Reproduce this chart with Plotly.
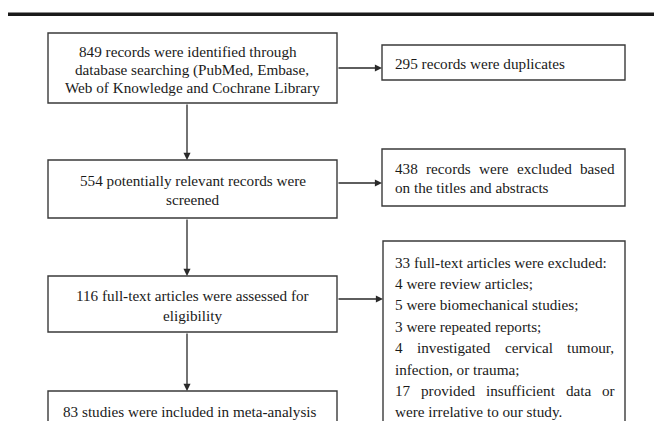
import plotly.graph_objects as go

# ---- content ----
box_texts = {
    "identified": ["849 records were identified through",
                   "database searching (PubMed, Embase,",
                   "Web of Knowledge and Cochrane Library"],
    "duplicates": ["295 records were duplicates"],
    "screened": ["554 potentially relevant records were", "screened"],
    "excluded1": ["438 records were excluded based", "on the titles and abstracts"],
    "eligibility": ["116 full-text articles were assessed for", "eligibility"],
    "included": ["83 studies were included in meta-analysis"],
    "excluded2": ["33 full-text articles were excluded:",
                  "4 were review articles;",
                  "5 were biomechanical studies;",
                  "3 were repeated reports;",
                  "4 investigated cervical tumour,",
                  "infection, or trauma;",
                  "17 provided insufficient data or",
                  "were irrelative to our study."],
}
# lines set justified across the box's text width
justified_lines = [("excluded1", 0), ("excluded2", 4), ("excluded2", 6)]

# ---- layout (pixel coordinates) ----
W, H = 654, 421
boxes = {  # x0, x1, y0, y1
    "identified": (48, 337, 33, 103),
    "duplicates": (382, 625, 45, 80),
    "screened": (48, 337, 160, 218),
    "excluded1": (382, 625, 149, 206),
    "eligibility": (48, 337, 276, 332),
    "included": (48, 337, 391, 450),
    "excluded2": (383, 625, 241, 460),
}
# text placement: (align, x, first line y, line spacing, right edge for justification)
text_pos = {
    "identified": ("center", [188, 192, 192.5], 51.5, 18, None),
    "duplicates": ("left", 393, 63, 19, None),
    "screened": ("center", 192.5, 180, 19.5, None),
    "excluded1": ("left", 393, 168, 19, 613),
    "eligibility": ("center", 192.5, 295, 20, None),
    "included": ("center", 190, 411, 20, None),
    "excluded2": ("left", 393, 262, 21.4, 613),
}
arrows = [  # (x_tail, y_tail, x_head, y_head)
    (337, 68, 382, 68),
    (187, 103, 187, 160),
    (337, 183, 382, 183),
    (187, 218, 187, 276),
    (337, 299, 383, 299),
    (187, 332, 187, 391),
]

FONT = "Liberation Serif, Times New Roman, serif"
FS = 15.2
TXT = "#1a1a1a"
EDGE = "#3a3a3a"

# Times-Roman advance widths (per 1000 em) for justification
_TW = {' ': 250, ',': 250, '.': 250, ':': 278, ';': 278, '-': 333, '(': 333, ')': 333}
_TW.update({d: 500 for d in "0123456789"})
_TW.update(dict(a=444, b=500, c=444, d=500, e=444, f=333, g=500, h=500, i=278, j=278,
                k=500, l=278, m=778, n=500, o=500, p=500, q=500, r=333, s=389, t=278,
                u=500, v=500, w=722, x=500, y=500, z=444))


def text_width(s):
    return sum(_TW.get(ch, 500) for ch in s) * FS / 1000.0


fig = go.Figure()
shapes = []
annotations = []

# top rule
shapes.append(dict(type="rect", xref="x", yref="y", x0=8, x1=W, y0=12.5, y1=16,
                   fillcolor="#1a1a1a", line=dict(width=0)))

for key, (x0, x1, y0, y1) in boxes.items():
    shapes.append(dict(type="rect", xref="x", yref="y", x0=x0, x1=x1, y0=y0, y1=y1,
                       line=dict(color=EDGE, width=1.4), fillcolor="rgba(0,0,0,0)"))
    align, xs, ystart, dy, xr = text_pos[key]
    for i, line in enumerate(box_texts[key]):
        y = ystart + i * dy
        x = xs[i] if isinstance(xs, list) else xs
        if (key, i) in justified_lines:
            words = line.split(" ")
            widths = [text_width(w) for w in words]
            gap = (xr - x - sum(widths)) / (len(words) - 1)
            wx = x
            for w, ww in zip(words, widths):
                annotations.append(dict(x=wx, y=y, xref="x", yref="y", text=w,
                                        showarrow=False, xanchor="left", yanchor="middle",
                                        font=dict(family=FONT, size=FS, color=TXT)))
                wx += ww + gap
            continue
        annotations.append(dict(x=x, y=y, xref="x", yref="y", text=line,
                                showarrow=False, xanchor=align, yanchor="middle",
                                font=dict(family=FONT, size=FS, color=TXT)))

for (xt, yt, xh, yh) in arrows:
    annotations.append(dict(x=xh, y=yh, ax=xt, ay=yt, xref="x", yref="y",
                            axref="x", ayref="y", text="", showarrow=True,
                            arrowhead=2, arrowsize=1.1, arrowwidth=1.3,
                            arrowcolor="#2a2a2a", standoff=0, startstandoff=0))

fig.update_layout(
    width=W, height=H,
    margin=dict(l=0, r=0, t=0, b=0),
    paper_bgcolor="white", plot_bgcolor="white",
    xaxis=dict(range=[0, W], visible=False, fixedrange=True),
    yaxis=dict(range=[H, 0], visible=False, fixedrange=True),
    shapes=shapes, annotations=annotations, showlegend=False,
)
fig.write_html("out.html", config={"displayModeBar": False},
               post_script="document.body.style.margin='0px';document.body.style.overflow='hidden';")
